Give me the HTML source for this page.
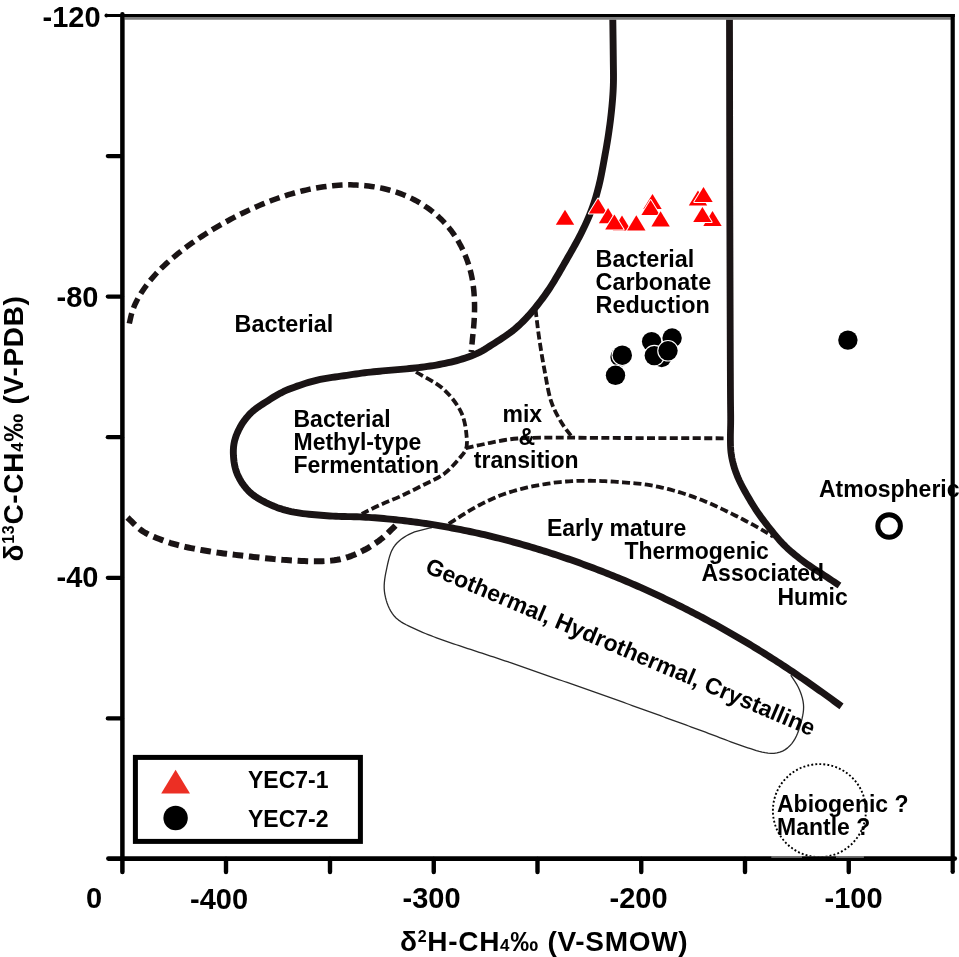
<!DOCTYPE html>
<html><head><meta charset="utf-8"><style>
html,body{margin:0;padding:0;background:#fff;overflow:hidden;width:959px;height:957px;}
svg{display:block;will-change:transform;}
text{font-family:"Liberation Sans",sans-serif;font-weight:bold;fill:#000;}
</style></head><body>
<svg width="959" height="957" viewBox="0 0 959 957">
<rect width="959" height="957" fill="#fff"/>
<path d="M432.00,527.50 L429.09,528.23 L426.17,528.92 L423.25,529.59 L420.33,530.29 L417.43,531.06 L414.57,531.96 L411.78,533.05 L409.08,534.32 L406.45,535.77 L403.91,537.35 L401.46,539.08 L399.14,540.97 L396.98,543.03 L395.03,545.29 L393.33,547.74 L391.90,550.36 L390.72,553.11 L389.74,555.94 L388.91,558.82 L388.19,561.73 L387.52,564.65 L386.89,567.59 L386.27,570.53 L385.68,573.47 L385.15,576.42 L384.70,579.38 L384.37,582.36 L384.19,585.35 L384.20,588.35 L384.42,591.33 L384.85,594.29 L385.45,597.23 L386.19,600.13 L387.09,602.99 L388.14,605.80 L389.36,608.53 L390.77,611.17 L392.39,613.68 L394.23,616.03 L396.30,618.18 L398.58,620.12 L401.02,621.84 L403.58,623.38 L406.23,624.79 L408.92,626.11 L411.64,627.38 L414.37,628.63 L417.10,629.88 L419.83,631.11 L422.58,632.32 L425.35,633.48 L428.13,634.60 L430.93,635.70 L433.73,636.76 L436.54,637.81 L439.36,638.84 L442.19,639.85 L445.02,640.85 L447.85,641.84 L450.69,642.82 L453.53,643.79 L456.37,644.75 L459.22,645.70 L462.06,646.65 L464.91,647.60 L467.76,648.54 L470.61,649.48 L473.46,650.41 L476.31,651.35 L479.17,652.28 L482.02,653.22 L484.87,654.15 L487.72,655.09 L490.57,656.03 L493.42,656.97 L496.27,657.91 L499.12,658.86 L501.96,659.81 L504.81,660.77 L507.65,661.74 L510.48,662.72 L513.32,663.70 L516.15,664.69 L518.99,665.68 L521.82,666.67 L524.65,667.66 L527.48,668.65 L530.32,669.64 L533.15,670.63 L535.98,671.61 L538.82,672.60 L541.65,673.59 L544.49,674.58 L547.32,675.57 L550.15,676.55 L552.99,677.54 L555.82,678.53 L558.66,679.52 L561.49,680.50 L564.32,681.49 L567.16,682.48 L569.99,683.47 L572.82,684.46 L575.65,685.45 L578.49,686.45 L581.32,687.44 L584.15,688.43 L586.98,689.43 L589.81,690.42 L592.64,691.42 L595.47,692.42 L598.30,693.42 L601.13,694.42 L603.96,695.42 L606.79,696.43 L609.61,697.43 L612.44,698.44 L615.27,699.45 L618.09,700.46 L620.92,701.47 L623.74,702.48 L626.57,703.50 L629.39,704.51 L632.22,705.53 L635.04,706.54 L637.86,707.56 L640.69,708.58 L643.51,709.60 L646.33,710.62 L649.15,711.64 L651.98,712.66 L654.80,713.68 L657.62,714.70 L660.44,715.73 L663.26,716.75 L666.08,717.78 L668.90,718.80 L671.72,719.83 L674.54,720.85 L677.36,721.88 L680.18,722.91 L683.00,723.94 L685.82,724.97 L688.64,726.00 L691.45,727.03 L694.27,728.07 L697.09,729.10 L699.90,730.14 L702.72,731.18 L705.53,732.22 L708.34,733.28 L711.15,734.34 L713.95,735.40 L716.76,736.47 L719.56,737.55 L722.36,738.62 L725.17,739.69 L727.97,740.76 L730.78,741.81 L733.59,742.86 L736.41,743.89 L739.24,744.89 L742.08,745.88 L744.92,746.84 L747.76,747.80 L750.61,748.73 L753.47,749.64 L756.34,750.51 L759.23,751.31 L762.15,752.03 L765.08,752.65 L768.04,753.13 L771.01,753.38 L773.99,753.32 L776.94,752.91 L779.83,752.17 L782.59,751.08 L785.19,749.64 L787.59,747.88 L789.79,745.85 L791.77,743.62 L793.53,741.21 L795.08,738.65 L796.42,735.98 L797.60,733.22 L798.64,730.41 L799.59,727.56 L800.45,724.69 L801.25,721.80 L801.99,718.89 L802.64,715.96 L803.16,713.01 L803.50,710.04 L803.61,707.05 L803.45,704.07 L803.03,701.11 L802.38,698.19 L801.54,695.31 L800.56,692.48 L799.44,689.70 L798.17,686.99 L796.74,684.36 L795.17,681.80 L793.54,679.29 L791.89,676.78 L790.80,675.10" fill="none" stroke="#2a2a2a" stroke-width="1.3" stroke-linecap="butt" stroke-linejoin="round"/>
<path d="M129.30,323.50 L129.97,320.57 L130.63,317.65 L131.33,314.73 L132.14,311.84 L133.11,309.00 L134.21,306.22 L135.43,303.47 L136.74,300.77 L138.13,298.12 L139.62,295.51 L141.19,292.96 L142.84,290.45 L144.54,287.98 L146.29,285.54 L148.10,283.14 L149.96,280.79 L151.87,278.48 L153.83,276.20 L155.83,273.97 L157.88,271.78 L159.97,269.62 L162.10,267.51 L164.27,265.43 L166.48,263.40 L168.72,261.41 L170.98,259.44 L173.26,257.49 L175.56,255.56 L177.88,253.65 L180.22,251.77 L182.58,249.92 L184.97,248.11 L187.39,246.32 L189.82,244.57 L192.27,242.83 L194.73,241.11 L197.20,239.41 L199.69,237.73 L202.19,236.08 L204.71,234.44 L207.24,232.84 L209.79,231.25 L212.35,229.69 L214.93,228.15 L217.51,226.62 L220.11,225.12 L222.72,223.63 L225.34,222.17 L227.97,220.72 L230.60,219.29 L233.25,217.88 L235.91,216.48 L238.58,215.12 L241.26,213.77 L243.96,212.45 L246.66,211.15 L249.38,209.88 L252.11,208.62 L254.85,207.39 L257.59,206.19 L260.35,205.01 L263.12,203.85 L265.90,202.72 L268.69,201.62 L271.49,200.54 L274.30,199.49 L277.13,198.46 L279.96,197.46 L282.80,196.50 L285.65,195.56 L288.51,194.67 L291.39,193.81 L294.28,193.00 L297.17,192.21 L300.08,191.46 L302.99,190.75 L305.92,190.06 L308.85,189.41 L311.78,188.81 L314.73,188.24 L317.69,187.72 L320.65,187.24 L323.62,186.80 L326.59,186.40 L329.57,186.03 L332.55,185.71 L335.54,185.42 L338.53,185.20 L341.53,185.03 L344.53,184.92 L347.53,184.86 L350.53,184.86 L353.53,184.92 L356.53,185.03 L359.52,185.20 L362.52,185.42 L365.51,185.70 L368.49,186.03 L371.46,186.41 L374.43,186.86 L377.39,187.36 L380.34,187.92 L383.27,188.55 L386.19,189.24 L389.10,189.99 L391.99,190.80 L394.86,191.68 L397.71,192.62 L400.53,193.62 L403.34,194.70 L406.11,195.85 L408.84,197.08 L411.54,198.39 L414.21,199.76 L416.85,201.19 L419.45,202.68 L422.02,204.24 L424.55,205.85 L427.03,207.54 L429.47,209.29 L431.86,211.10 L434.21,212.97 L436.50,214.91 L438.73,216.91 L440.90,218.98 L443.02,221.11 L445.07,223.30 L447.06,225.55 L448.98,227.85 L450.84,230.21 L452.63,232.61 L454.35,235.07 L456.01,237.57 L457.60,240.12 L459.11,242.71 L460.56,245.34 L461.93,248.00 L463.22,250.71 L464.44,253.45 L465.58,256.23 L466.66,259.03 L467.68,261.85 L468.63,264.70 L469.51,267.57 L470.31,270.46 L471.04,273.37 L471.68,276.30 L472.25,279.25 L472.74,282.21 L473.18,285.18 L473.55,288.15 L473.85,291.14 L474.09,294.13 L474.27,297.13 L474.42,300.12 L474.51,303.12 L474.56,306.12 L474.56,309.12 L474.51,312.12 L474.42,315.12 L474.28,318.12 L474.10,321.12 L473.88,324.11 L473.64,327.10 L473.37,330.09 L473.06,333.08 L472.75,336.06 L472.45,339.05 L472.17,342.03 L471.90,345.02 L471.65,348.01 L471.39,351.00 L471.30,352.00" fill="none" stroke="#1a1415" stroke-width="5.5" stroke-linecap="butt" stroke-linejoin="round" stroke-dasharray="10.5 5.6"/>
<path d="M127.50,517.50 L129.65,519.59 L131.79,521.70 L133.92,523.81 L136.08,525.89 L138.30,527.90 L140.63,529.78 L143.08,531.49 L145.65,533.03 L148.31,534.41 L151.03,535.66 L153.80,536.82 L156.59,537.92 L159.38,539.01 L162.19,540.07 L165.00,541.11 L167.84,542.09 L170.69,543.02 L173.56,543.88 L176.45,544.69 L179.35,545.45 L182.27,546.16 L185.19,546.83 L188.12,547.47 L191.06,548.07 L194.00,548.66 L196.95,549.22 L199.90,549.76 L202.85,550.29 L205.81,550.80 L208.77,551.29 L211.73,551.77 L214.70,552.22 L217.67,552.65 L220.64,553.06 L223.61,553.45 L226.59,553.83 L229.57,554.19 L232.54,554.55 L235.52,554.89 L238.51,555.24 L241.49,555.57 L244.47,555.91 L247.45,556.25 L250.43,556.58 L253.41,556.92 L256.39,557.26 L259.37,557.59 L262.35,557.92 L265.34,558.24 L268.32,558.55 L271.31,558.85 L274.29,559.13 L277.28,559.40 L280.27,559.64 L283.26,559.87 L286.26,560.08 L289.25,560.28 L292.24,560.46 L295.24,560.64 L298.23,560.81 L301.23,560.96 L304.23,561.10 L307.22,561.21 L310.22,561.29 L313.22,561.35 L316.22,561.36 L319.22,561.32 L322.22,561.23 L325.22,561.09 L328.21,560.89 L331.19,560.62 L334.17,560.26 L337.14,559.81 L340.08,559.25 L343.00,558.56 L345.89,557.76 L348.74,556.85 L351.56,555.83 L354.34,554.71 L357.09,553.52 L359.81,552.25 L362.50,550.91 L365.15,549.51 L367.77,548.05 L370.35,546.52 L372.89,544.93 L375.39,543.27 L377.84,541.55 L380.24,539.75 L382.57,537.86 L384.84,535.90 L387.04,533.87 L389.21,531.79 L391.35,529.69 L393.48,527.58 L395.62,525.48 L397.78,523.39 L398.50,522.70" fill="none" stroke="#1a1415" stroke-width="6" stroke-linecap="butt" stroke-linejoin="round" stroke-dasharray="10.6 5.7"/>
<path d="M416.00,372.00 C425.07,377.63 435.56,381.95 443.20,388.90 C450.60,395.63 457.51,404.42 461.40,412.80 C464.88,420.30 466.03,429.63 466.60,436.30 C467.01,441.15 467.34,445.16 466.00,449.00 C464.65,452.86 461.59,455.77 458.50,459.40 C454.58,464.01 449.63,469.76 443.90,474.00 C437.61,478.66 429.25,481.93 421.90,485.70 C414.62,489.43 407.18,493.21 400.00,496.50 C393.23,499.61 386.47,502.04 380.00,505.00 C373.75,507.85 367.87,510.93 361.80,513.90" fill="none" stroke="#1a1415" stroke-width="3.8" stroke-linecap="butt" stroke-linejoin="round" stroke-dasharray="8 3.4"/>
<path d="M535.50,309.10 C536.63,318.17 537.51,326.76 538.90,336.30 C540.45,346.97 542.38,358.99 544.50,370.10 C546.59,381.01 548.19,392.98 551.50,402.40 C554.28,410.32 558.28,417.32 561.90,423.30 C564.87,428.20 568.03,431.77 571.10,436.00" fill="none" stroke="#1a1415" stroke-width="3.8" stroke-linecap="butt" stroke-linejoin="round" stroke-dasharray="8 3.4"/>
<path d="M465.60,448.20 C470.40,447.13 475.37,446.01 480.00,445.00 C484.31,444.06 488.33,443.13 492.50,442.30 C496.66,441.47 500.81,440.63 505.00,440.00 C509.18,439.37 512.68,438.88 517.60,438.50 C524.51,437.97 532.56,437.75 542.60,437.60 C557.81,437.37 577.13,437.80 600.00,437.90 C633.98,438.04 684.47,438.17 726.70,438.30" fill="none" stroke="#1a1415" stroke-width="3.8" stroke-linecap="butt" stroke-linejoin="round" stroke-dasharray="8 3.4"/>
<path d="M448.75,523.75 L451.30,522.15 L453.83,520.54 L456.37,518.92 L458.90,517.30 L461.43,515.68 L463.98,514.07 L466.53,512.48 L469.10,510.92 L471.69,509.40 L474.30,507.91 L476.94,506.46 L479.59,505.04 L482.25,503.65 L484.93,502.28 L487.63,500.95 L490.35,499.66 L493.08,498.42 L495.84,497.22 L498.62,496.08 L501.42,494.99 L504.25,493.97 L507.10,493.00 L509.96,492.09 L512.84,491.23 L515.74,490.40 L518.64,489.62 L521.55,488.87 L524.47,488.15 L527.40,487.46 L530.33,486.81 L533.28,486.20 L536.23,485.62 L539.18,485.08 L542.15,484.56 L545.11,484.07 L548.08,483.60 L551.06,483.16 L554.03,482.74 L557.02,482.36 L560.01,482.02 L563.00,481.74 L566.00,481.50 L569.00,481.30 L572.00,481.14 L575.00,481.02 L578.01,480.92 L581.01,480.85 L584.02,480.80 L587.03,480.78 L590.04,480.77 L593.04,480.80 L596.05,480.85 L599.05,480.93 L602.06,481.03 L605.06,481.17 L608.07,481.32 L611.07,481.50 L614.07,481.69 L617.07,481.89 L620.07,482.11 L623.07,482.33 L626.07,482.55 L629.06,482.78 L632.06,483.02 L635.06,483.28 L638.05,483.57 L641.04,483.90 L644.02,484.27 L647.00,484.69 L649.97,485.17 L652.93,485.70 L655.88,486.27 L658.82,486.89 L661.76,487.54 L664.68,488.23 L667.60,488.95 L670.51,489.71 L673.41,490.50 L676.31,491.32 L679.19,492.17 L682.07,493.05 L684.93,493.97 L687.78,494.92 L690.63,495.89 L693.46,496.90 L696.28,497.94 L699.10,499.00 L701.90,500.10 L704.68,501.22 L707.46,502.39 L710.22,503.58 L712.96,504.80 L715.70,506.05 L718.42,507.32 L721.14,508.61 L723.85,509.91 L726.56,511.22 L729.26,512.54 L731.96,513.87 L734.65,515.21 L737.34,516.56 L740.02,517.92 L742.69,519.30 L745.36,520.69 L748.02,522.09 L750.67,523.51 L753.32,524.94 L755.95,526.39 L758.57,527.86 L761.18,529.37 L763.76,530.90 L766.34,532.45 L768.91,534.01 L771.48,535.56 L773.20,536.60" fill="none" stroke="#1a1415" stroke-width="3.8" stroke-linecap="butt" stroke-linejoin="round" stroke-dasharray="8 3.4"/>
<path d="M612.80,19.50 L612.84,22.50 L612.88,25.50 L612.92,28.50 L612.96,31.50 L613.00,34.50 L613.04,37.50 L613.08,40.50 L613.12,43.50 L613.15,46.50 L613.19,49.50 L613.22,52.50 L613.26,55.50 L613.29,58.50 L613.32,61.50 L613.36,64.50 L613.40,67.50 L613.44,70.50 L613.48,73.50 L613.49,76.50 L613.48,79.50 L613.43,82.50 L613.35,85.50 L613.23,88.50 L613.08,91.49 L612.90,94.49 L612.69,97.48 L612.46,100.47 L612.20,103.46 L611.93,106.45 L611.64,109.43 L611.33,112.42 L611.00,115.40 L610.65,118.38 L610.29,121.36 L609.90,124.33 L609.50,127.31 L609.08,130.28 L608.65,133.25 L608.20,136.21 L607.74,139.18 L607.26,142.14 L606.76,145.10 L606.26,148.05 L605.73,151.01 L605.20,153.96 L604.67,156.91 L604.13,159.86 L603.58,162.82 L603.04,165.77 L602.50,168.72 L601.94,171.66 L601.36,174.61 L600.76,177.55 L600.13,180.48 L599.45,183.40 L598.74,186.32 L598.00,189.22 L597.23,192.12 L596.42,195.01 L595.59,197.89 L594.71,200.76 L593.79,203.62 L592.83,206.46 L591.81,209.28 L590.75,212.09 L589.64,214.87 L588.48,217.64 L587.28,220.38 L586.04,223.12 L584.77,225.84 L583.47,228.54 L582.16,231.24 L580.82,233.92 L579.45,236.59 L578.06,239.25 L576.65,241.90 L575.20,244.53 L573.74,247.15 L572.26,249.76 L570.78,252.36 L569.28,254.97 L567.79,257.57 L566.30,260.17 L564.82,262.78 L563.33,265.38 L561.83,267.99 L560.33,270.58 L558.83,273.18 L557.31,275.77 L555.78,278.35 L554.23,280.92 L552.66,283.48 L551.07,286.02 L549.44,288.54 L547.77,291.03 L546.07,293.50 L544.33,295.94 L542.56,298.36 L540.76,300.76 L538.93,303.14 L537.07,305.49 L535.18,307.83 L533.27,310.14 L531.34,312.43 L529.36,314.69 L527.36,316.92 L525.30,319.11 L523.21,321.25 L521.07,323.35 L518.89,325.41 L516.66,327.42 L514.38,329.36 L512.04,331.24 L509.65,333.05 L507.21,334.79 L504.73,336.48 L502.23,338.13 L499.72,339.78 L497.20,341.41 L494.68,343.03 L492.15,344.65 L489.62,346.26 L487.09,347.88 L484.55,349.46 L481.97,350.98 L479.32,352.39 L476.62,353.67 L473.86,354.85 L471.07,355.95 L468.26,356.98 L465.42,357.96 L462.57,358.88 L459.70,359.75 L456.81,360.57 L453.91,361.33 L451.00,362.05 L448.07,362.71 L445.14,363.34 L442.20,363.94 L439.25,364.51 L436.30,365.04 L433.34,365.55 L430.38,366.01 L427.41,366.44 L424.44,366.84 L421.46,367.21 L418.48,367.56 L415.50,367.90 L412.52,368.22 L409.53,368.53 L406.55,368.82 L403.56,369.10 L400.57,369.36 L397.58,369.62 L394.59,369.87 L391.60,370.12 L388.61,370.38 L385.63,370.65 L382.64,370.92 L379.65,371.20 L376.66,371.48 L373.68,371.77 L370.69,372.08 L367.71,372.41 L364.73,372.76 L361.76,373.14 L358.79,373.55 L355.82,373.98 L352.85,374.43 L349.88,374.87 L346.91,375.32 L343.95,375.75 L340.97,376.16 L338.00,376.56 L335.03,376.96 L332.06,377.37 L329.09,377.81 L326.13,378.29 L323.18,378.82 L320.24,379.42 L317.31,380.08 L314.40,380.81 L311.51,381.60 L308.63,382.43 L305.76,383.31 L302.90,384.22 L300.05,385.16 L297.21,386.13 L294.39,387.13 L291.57,388.17 L288.78,389.27 L286.03,390.45 L283.31,391.71 L280.63,393.06 L278.00,394.50 L275.41,396.01 L272.85,397.57 L270.31,399.17 L267.78,400.79 L265.25,402.40 L262.73,404.02 L260.21,405.65 L257.74,407.34 L255.32,409.11 L253.00,411.00 L250.79,413.02 L248.71,415.16 L246.74,417.41 L244.89,419.77 L243.15,422.21 L241.53,424.72 L240.03,427.31 L238.65,429.97 L237.39,432.69 L236.27,435.47 L235.31,438.30 L234.51,441.18 L233.92,444.10 L233.54,447.06 L233.36,450.05 L233.34,453.04 L233.47,456.03 L233.70,459.02 L234.06,462.00 L234.55,464.95 L235.20,467.87 L236.04,470.74 L237.06,473.54 L238.27,476.28 L239.64,478.94 L241.16,481.52 L242.80,484.02 L244.57,486.43 L246.46,488.75 L248.49,490.94 L250.66,492.99 L252.97,494.89 L255.40,496.64 L257.92,498.25 L260.51,499.76 L263.14,501.19 L265.81,502.56 L268.51,503.87 L271.24,505.11 L273.99,506.29 L276.78,507.39 L279.60,508.40 L282.45,509.34 L285.33,510.18 L288.23,510.94 L291.15,511.61 L294.09,512.20 L297.04,512.72 L300.01,513.18 L302.98,513.58 L305.96,513.93 L308.94,514.24 L311.93,514.51 L314.92,514.77 L317.91,515.03 L320.90,515.28 L323.89,515.53 L326.88,515.76 L329.87,515.97 L332.87,516.16 L335.86,516.30 L338.86,516.42 L341.86,516.50 L344.86,516.56 L347.86,516.61 L350.86,516.66 L353.86,516.73 L356.86,516.81 L359.85,516.92 L362.85,517.06 L365.85,517.21 L368.84,517.39 L371.84,517.59 L374.83,517.81 L377.82,518.04 L380.81,518.28 L383.80,518.54 L386.79,518.82 L389.77,519.11 L392.76,519.42 L395.74,519.73 L398.72,520.06 L401.70,520.40 L404.68,520.75 L407.66,521.11 L410.64,521.47 L413.62,521.85 L416.59,522.24 L419.56,522.64 L422.54,523.06 L425.50,523.49 L428.47,523.94 L431.43,524.40 L434.40,524.88 L437.36,525.37 L440.31,525.88 L443.27,526.39 L446.22,526.92 L449.17,527.46 L452.12,528.00 L455.07,528.56 L458.02,529.12 L460.96,529.70 L463.91,530.29 L466.85,530.88 L469.78,531.50 L472.72,532.12 L475.65,532.75 L478.58,533.40 L481.51,534.06 L484.43,534.73 L487.35,535.41 L490.27,536.11 L493.19,536.81 L496.10,537.53 L499.01,538.26 L501.92,539.00 L504.82,539.75 L507.72,540.52 L510.62,541.29 L513.52,542.08 L516.41,542.88 L519.30,543.69 L522.19,544.50 L525.07,545.33 L527.95,546.16 L530.83,547.01 L533.71,547.86 L536.58,548.73 L539.45,549.60 L542.32,550.49 L545.18,551.38 L548.04,552.28 L550.90,553.20 L553.75,554.12 L556.61,555.05 L559.46,555.99 L562.30,556.94 L565.14,557.90 L567.98,558.87 L570.82,559.84 L573.65,560.84 L576.48,561.84 L579.30,562.85 L582.12,563.87 L584.94,564.90 L587.75,565.95 L590.56,567.00 L593.37,568.06 L596.17,569.13 L598.97,570.21 L601.77,571.30 L604.56,572.39 L607.35,573.49 L610.14,574.60 L612.92,575.72 L615.70,576.85 L618.48,577.99 L621.25,579.14 L624.02,580.30 L626.78,581.46 L629.54,582.64 L632.30,583.83 L635.05,585.02 L637.80,586.23 L640.54,587.44 L643.28,588.67 L646.02,589.90 L648.75,591.14 L651.48,592.39 L654.20,593.65 L656.92,594.92 L659.63,596.19 L662.34,597.48 L665.05,598.77 L667.75,600.07 L670.45,601.38 L673.15,602.70 L675.84,604.02 L678.53,605.35 L681.22,606.69 L683.90,608.03 L686.58,609.38 L689.26,610.74 L691.93,612.11 L694.59,613.48 L697.25,614.87 L699.91,616.26 L702.56,617.67 L705.21,619.08 L707.85,620.51 L710.48,621.94 L713.12,623.38 L715.74,624.83 L718.37,626.28 L720.99,627.75 L723.60,629.22 L726.21,630.69 L728.82,632.18 L731.42,633.67 L734.02,635.17 L736.62,636.67 L739.21,638.19 L741.79,639.71 L744.37,641.24 L746.95,642.78 L749.52,644.32 L752.09,645.87 L754.65,647.44 L757.21,649.00 L759.76,650.58 L762.31,652.16 L764.85,653.76 L767.39,655.36 L769.92,656.96 L772.45,658.57 L774.98,660.20 L777.50,661.82 L780.02,663.46 L782.53,665.10 L785.03,666.75 L787.53,668.41 L790.03,670.07 L792.52,671.74 L795.01,673.42 L797.49,675.10 L799.97,676.79 L802.45,678.49 L804.91,680.20 L807.38,681.91 L809.83,683.63 L812.29,685.36 L814.74,687.09 L817.18,688.83 L819.63,690.57 L822.07,692.31 L824.51,694.06 L826.95,695.81 L829.38,697.56 L831.81,699.33 L834.23,701.09 L836.65,702.86 L839.08,704.63 L841.50,706.40" fill="none" stroke="#1a1415" stroke-width="6.9" stroke-linecap="butt" stroke-linejoin="round"/>
<path d="M729.50,19.50 L729.50,22.50 L729.51,25.51 L729.51,28.51 L729.52,31.52 L729.52,34.52 L729.53,37.53 L729.53,40.53 L729.54,43.54 L729.54,46.54 L729.55,49.55 L729.55,52.55 L729.55,55.56 L729.56,58.56 L729.56,61.57 L729.57,64.57 L729.57,67.58 L729.58,70.58 L729.58,73.59 L729.58,76.59 L729.59,79.60 L729.59,82.60 L729.60,85.61 L729.60,88.61 L729.60,91.62 L729.61,94.62 L729.61,97.63 L729.62,100.63 L729.62,103.64 L729.62,106.64 L729.63,109.65 L729.63,112.65 L729.64,115.66 L729.64,118.66 L729.65,121.67 L729.65,124.67 L729.66,127.68 L729.66,130.68 L729.66,133.69 L729.67,136.69 L729.67,139.70 L729.68,142.70 L729.68,145.71 L729.69,148.71 L729.70,151.72 L729.70,154.72 L729.71,157.73 L729.71,160.73 L729.72,163.74 L729.72,166.74 L729.73,169.75 L729.74,172.75 L729.74,175.75 L729.75,178.76 L729.76,181.76 L729.76,184.77 L729.77,187.77 L729.78,190.78 L729.78,193.78 L729.79,196.79 L729.80,199.79 L729.81,202.80 L729.82,205.80 L729.82,208.81 L729.83,211.81 L729.84,214.82 L729.85,217.82 L729.86,220.83 L729.86,223.83 L729.87,226.84 L729.88,229.84 L729.89,232.85 L729.90,235.85 L729.91,238.86 L729.91,241.86 L729.92,244.87 L729.93,247.87 L729.94,250.88 L729.95,253.88 L729.96,256.89 L729.97,259.89 L729.98,262.90 L729.99,265.90 L729.99,268.91 L730.00,271.91 L730.01,274.92 L730.02,277.92 L730.03,280.93 L730.04,283.93 L730.05,286.94 L730.06,289.94 L730.07,292.95 L730.08,295.95 L730.09,298.96 L730.10,301.96 L730.11,304.97 L730.12,307.97 L730.13,310.98 L730.14,313.98 L730.15,316.98 L730.16,319.99 L730.17,322.99 L730.18,326.00 L730.19,329.00 L730.20,332.01 L730.21,335.01 L730.22,338.02 L730.23,341.02 L730.25,344.03 L730.26,347.03 L730.27,350.04 L730.28,353.04 L730.29,356.05 L730.30,359.05 L730.32,362.06 L730.33,365.06 L730.34,368.07 L730.35,371.07 L730.37,374.08 L730.38,377.08 L730.39,380.09 L730.41,383.09 L730.42,386.10 L730.44,389.10 L730.45,392.11 L730.47,395.11 L730.49,398.12 L730.51,401.12 L730.54,404.13 L730.57,407.13 L730.61,410.14 L730.65,413.14 L730.68,416.15 L730.69,419.15 L730.67,422.15 L730.63,425.16 L730.56,428.16 L730.49,431.17 L730.43,434.17 L730.41,437.18 L730.41,440.18 L730.44,443.19 L730.52,446.19 L730.68,449.19 L730.97,452.17 L731.38,455.15 L731.90,458.11 L732.53,461.04 L733.25,463.96 L734.06,466.85 L734.97,469.71 L735.97,472.54 L737.05,475.34 L738.22,478.11 L739.45,480.85 L740.75,483.56 L742.12,486.24 L743.54,488.88 L744.99,491.51 L746.47,494.13 L747.98,496.73 L749.50,499.32 L751.04,501.90 L752.61,504.46 L754.20,507.01 L755.83,509.53 L757.50,512.03 L759.21,514.50 L760.95,516.95 L762.73,519.37 L764.53,521.78 L766.37,524.16 L768.22,526.52 L770.10,528.87 L771.99,531.20 L773.89,533.53 L775.81,535.84 L777.75,538.13 L779.73,540.39 L781.76,542.61 L783.84,544.78 L785.97,546.89 L788.16,548.95 L790.40,550.96 L792.67,552.92 L794.98,554.84 L797.31,556.73 L799.68,558.59 L802.06,560.42 L804.47,562.21 L806.91,563.97 L809.38,565.67 L811.88,567.34 L814.40,568.98 L816.93,570.60 L819.46,572.23 L821.97,573.87 L824.48,575.52 L826.99,577.18 L829.49,578.85 L831.99,580.51 L834.49,582.17 L837.00,583.84 L839.50,585.50" fill="none" stroke="#1a1415" stroke-width="6.8" stroke-linecap="butt" stroke-linejoin="round"/>
<defs><clipPath id="cc"><rect x="700" y="700" width="200" height="156.3"/></clipPath></defs>
<circle cx="819.4" cy="810.6" r="46.5" fill="none" stroke="#000" stroke-width="1.9" stroke-dasharray="1.9 2.15" clip-path="url(#cc)"/>
<path d="M106.4,15.5 H954.8" stroke="#000" stroke-width="2.8"/>
<circle cx="106.4" cy="15.5" r="1.9" fill="#000"/>
<line x1="124.5" y1="18.3" x2="951" y2="18.3" stroke="#7d7d7d" stroke-width="2.8"/>
<line x1="122.4" y1="14.2" x2="122.4" y2="872" stroke="#000" stroke-width="4.5" stroke-linecap="round"/>
<path d="M952.7,14.1 V872" stroke="#000" stroke-width="4.2"/>
<circle cx="952.7" cy="872" r="2.1" fill="#000"/>
<line x1="108.4" y1="858.6" x2="954.8" y2="858.6" stroke="#000" stroke-width="4.6" stroke-linecap="round"/>
<line x1="107.8" y1="156.1" x2="122" y2="156.1" stroke="#000" stroke-width="4.2" stroke-linecap="round"/>
<line x1="107.8" y1="296.6" x2="122" y2="296.6" stroke="#000" stroke-width="4.2" stroke-linecap="round"/>
<line x1="107.8" y1="437.2" x2="122" y2="437.2" stroke="#000" stroke-width="4.2" stroke-linecap="round"/>
<line x1="107.8" y1="577.8" x2="122" y2="577.8" stroke="#000" stroke-width="4.2" stroke-linecap="round"/>
<line x1="107.8" y1="718.4" x2="122" y2="718.4" stroke="#000" stroke-width="4.2" stroke-linecap="round"/>
<line x1="226" y1="859" x2="226" y2="872" stroke="#000" stroke-width="4.4" stroke-linecap="round"/>
<line x1="330" y1="859" x2="330" y2="872" stroke="#000" stroke-width="4.4" stroke-linecap="round"/>
<line x1="433.75" y1="859" x2="433.75" y2="872" stroke="#000" stroke-width="4.4" stroke-linecap="round"/>
<line x1="537.5" y1="859" x2="537.5" y2="872" stroke="#000" stroke-width="4.4" stroke-linecap="round"/>
<line x1="641.25" y1="859" x2="641.25" y2="872" stroke="#000" stroke-width="4.4" stroke-linecap="round"/>
<line x1="745" y1="859" x2="745" y2="872" stroke="#000" stroke-width="4.4" stroke-linecap="round"/>
<line x1="848.75" y1="859" x2="848.75" y2="872" stroke="#000" stroke-width="4.4" stroke-linecap="round"/>
<line x1="771.3" y1="857" x2="802" y2="857" stroke="#8a8a8a" stroke-width="1.4"/>
<line x1="836" y1="857" x2="863.9" y2="857" stroke="#8a8a8a" stroke-width="1.4"/>
<polygon points="652.50,194.00 661.70,209.10 643.30,209.10" fill="#ff0000" stroke="#fff" stroke-width="2" stroke-linejoin="round" paint-order="stroke"/>
<polygon points="698.00,190.40 707.20,205.50 688.80,205.50" fill="#ff0000" stroke="#fff" stroke-width="2" stroke-linejoin="round" paint-order="stroke"/>
<polygon points="712.50,211.00 721.70,226.10 703.30,226.10" fill="#ff0000" stroke="#fff" stroke-width="2" stroke-linejoin="round" paint-order="stroke"/>
<polygon points="622.00,215.50 631.20,230.60 612.80,230.60" fill="#ff0000" stroke="#fff" stroke-width="2" stroke-linejoin="round" paint-order="stroke"/>
<polygon points="565.00,209.75 574.20,224.85 555.80,224.85" fill="#ff0000" stroke="#fff" stroke-width="2" stroke-linejoin="round" paint-order="stroke"/>
<polygon points="598.10,198.50 607.30,213.60 588.90,213.60" fill="#ff0000" stroke="#fff" stroke-width="2" stroke-linejoin="round" paint-order="stroke"/>
<polygon points="608.10,208.10 617.30,223.20 598.90,223.20" fill="#ff0000" stroke="#fff" stroke-width="2" stroke-linejoin="round" paint-order="stroke"/>
<polygon points="614.40,214.40 623.60,229.50 605.20,229.50" fill="#ff0000" stroke="#fff" stroke-width="2" stroke-linejoin="round" paint-order="stroke"/>
<polygon points="636.30,215.30 645.50,230.40 627.10,230.40" fill="#ff0000" stroke="#fff" stroke-width="2" stroke-linejoin="round" paint-order="stroke"/>
<polygon points="650.60,200.00 659.80,215.10 641.40,215.10" fill="#ff0000" stroke="#fff" stroke-width="2" stroke-linejoin="round" paint-order="stroke"/>
<polygon points="660.60,211.30 669.80,226.40 651.40,226.40" fill="#ff0000" stroke="#fff" stroke-width="2" stroke-linejoin="round" paint-order="stroke"/>
<polygon points="703.50,186.90 712.70,202.00 694.30,202.00" fill="#ff0000" stroke="#fff" stroke-width="2" stroke-linejoin="round" paint-order="stroke"/>
<polygon points="702.40,207.00 711.60,222.10 693.20,222.10" fill="#ff0000" stroke="#fff" stroke-width="2" stroke-linejoin="round" paint-order="stroke"/>
<circle cx="620" cy="357" r="9.7" fill="#000" stroke="#fff" stroke-width="2.2" paint-order="stroke"/>
<circle cx="615.5" cy="375.3" r="9.7" fill="#000" stroke="#fff" stroke-width="2.2" paint-order="stroke"/>
<circle cx="622.3" cy="355.2" r="9.7" fill="#000" stroke="#fff" stroke-width="2.2" paint-order="stroke"/>
<circle cx="661.7" cy="357.5" r="9.7" fill="#000" stroke="#fff" stroke-width="2.2" paint-order="stroke"/>
<circle cx="651.6" cy="341.6" r="9.7" fill="#000" stroke="#fff" stroke-width="2.2" paint-order="stroke"/>
<circle cx="672.1" cy="338" r="9.7" fill="#000" stroke="#fff" stroke-width="2.2" paint-order="stroke"/>
<circle cx="654.3" cy="355.6" r="9.7" fill="#000" stroke="#fff" stroke-width="2.2" paint-order="stroke"/>
<circle cx="668" cy="350.8" r="9.7" fill="#000" stroke="#fff" stroke-width="2.2" paint-order="stroke"/>
<circle cx="847.9" cy="340.1" r="9.7" fill="#000" stroke="#fff" stroke-width="2.2" paint-order="stroke"/>
<circle cx="889.1" cy="526" r="11.3" fill="none" stroke="#000" stroke-width="5"/>
<rect x="135.4" y="757.4" width="225" height="84" fill="#fff" stroke="#000" stroke-width="5"/>
<polygon points="175.6,769.8 190,793.4 161.2,793.4" fill="#ec2f24"/>
<circle cx="175.6" cy="818" r="12.2" fill="#000"/>
<text transform="translate(42.5,26.8) scale(1,1.02)" font-size="29" text-anchor="start" >-120</text>
<text transform="translate(56.5,306.5) scale(1,1.02)" font-size="29" text-anchor="start" >-80</text>
<text transform="translate(56.5,587) scale(1,1.02)" font-size="29" text-anchor="start" >-40</text>
<text transform="translate(86,908) scale(1,1.02)" font-size="29" text-anchor="start" >0</text>
<text transform="translate(190,908.5) scale(1,1.02)" font-size="29" text-anchor="start" >-400</text>
<text transform="translate(402.5,908) scale(1,1.02)" font-size="29" text-anchor="start" >-300</text>
<text transform="translate(609.5,908) scale(1,1.02)" font-size="29" text-anchor="start" >-200</text>
<text transform="translate(824.5,908) scale(1,1.02)" font-size="29" text-anchor="start" >-100</text>
<text transform="translate(234.5,332) scale(1,1.04)" font-size="23.4" text-anchor="start" >Bacterial</text>
<text transform="translate(293.5,426.7) scale(1,1.04)" font-size="23" text-anchor="start" >Bacterial</text>
<text transform="translate(293.5,449.7) scale(1,1.04)" font-size="23" text-anchor="start" >Methyl-type</text>
<text transform="translate(293.5,472.6) scale(1,1.04)" font-size="23" text-anchor="start" >Fermentation</text>
<text transform="translate(595.5,266.6) scale(1,1.04)" font-size="23.4" text-anchor="start" >Bacterial</text>
<text transform="translate(595.5,289.5) scale(1,1.04)" font-size="23.4" text-anchor="start" >Carbonate</text>
<text transform="translate(595.5,313) scale(1,1.04)" font-size="23.4" text-anchor="start" >Reduction</text>
<text transform="translate(502.5,422) scale(1,1.04)" font-size="23" text-anchor="start" >mix</text>
<text transform="translate(518.5,444.8) scale(1,1.04)" font-size="23" text-anchor="start" >&amp;</text>
<text transform="translate(473.8,467.7) scale(1,1.04)" font-size="23" text-anchor="start" >transition</text>
<text transform="translate(547,535.5) scale(1,1.04)" font-size="23" text-anchor="start" >Early mature</text>
<text transform="translate(624.5,559) scale(1,1.04)" font-size="23" text-anchor="start" >Thermogenic</text>
<text transform="translate(701.5,581.3) scale(1,1.04)" font-size="23" text-anchor="start" >Associated</text>
<text transform="translate(777.5,604.5) scale(1,1.04)" font-size="23" text-anchor="start" >Humic</text>
<text transform="translate(819,496.6) scale(1,1.04)" font-size="23" text-anchor="start" >Atmospheric</text>
<text transform="translate(777,811.6) scale(1,1.04)" font-size="23" text-anchor="start" >Abiogenic ?</text>
<text transform="translate(777,834.7) scale(1,1.04)" font-size="23" text-anchor="start" >Mantle ?</text>
<text x="0" y="0" font-size="23" transform="translate(424,572) rotate(23)">Geothermal, Hydrothermal, Crystalline</text>
<text x="0" y="0" font-size="28" transform="translate(23,561.5) rotate(-90)" letter-spacing="0.7">&#948;<tspan font-size="16" dy="-9">13</tspan><tspan dy="9">C-CH</tspan><tspan font-size="17" dy="0">4</tspan><tspan dy="0">&#8240; (V-PDB)</tspan></text>
<text x="400" y="950.5" font-size="28" letter-spacing="0.7">&#948;<tspan font-size="16" dy="-9">2</tspan><tspan dy="9">H-CH</tspan><tspan font-size="17" dy="0">4</tspan><tspan dy="0">&#8240; (V-SMOW)</tspan></text>
<text transform="translate(248,787.5) scale(1,1.04)" font-size="23" text-anchor="start" >YEC7-1</text>
<text transform="translate(248,826.8) scale(1,1.04)" font-size="23" text-anchor="start" >YEC7-2</text>
</svg>
</body></html>
